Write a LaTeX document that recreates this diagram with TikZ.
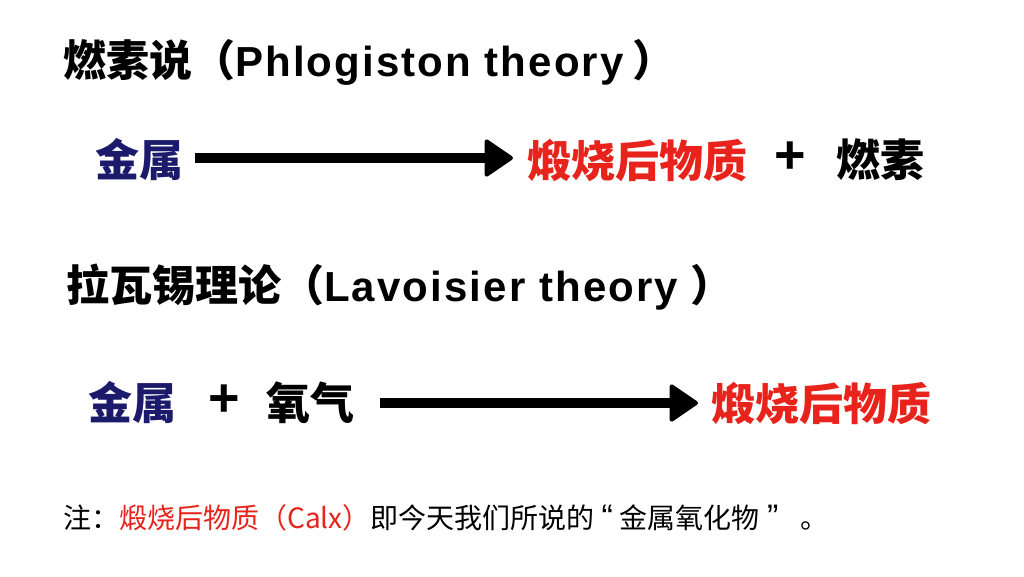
\documentclass[tikz,border=0pt]{standalone}
\usepackage{fontspec}
\setmainfont{Liberation Sans}
\newfontfamily\cjk{Noto Sans CJK SC}
\newfontfamily\latw{Liberation Sans}[LetterSpace=5]
\usetikzlibrary{arrows.meta}
\definecolor{navy}{HTML}{1C1A6B}
\definecolor{redc}{HTML}{E8231B}
\newcommand{\lat}[1]{{\fontsize{42}{46}\selectfont\latw\bfseries #1}}
\tikzset{
  title/.style={anchor=west, inner sep=0pt, font=\fontsize{43}{46}\selectfont\bfseries\cjk},
  big/.style={anchor=west, inner sep=0pt, font=\fontsize{44}{48}\selectfont\bfseries\cjk},
  plus/.style={anchor=center, inner sep=0pt, font=\fontsize{54}{58}\selectfont\bfseries},
  note/.style={anchor=west, inner sep=0pt, font=\fontsize{28}{32}\selectfont\cjk},
  fat/.style={line width=10pt, -{Triangle[length=30pt, width=40pt, round, line width=4pt]}}
}
\begin{document}
\begin{tikzpicture}[x=1pt,y=-1pt]
\useasboundingbox[fill=white] (0,0) rectangle (1024,576);
\node[title] (t1) at (63,62) {燃素说（\lat{Phlogiston theory}\kern9pt）};
\node[big, text=navy] (m1) at (95,160) {金属};
\node[big, text=redc] (c1) at (527,160) {煅烧后物质};
\node[plus] (p1) at (790,158) {+};
\node[big] (f1) at (836,160) {燃素};
\coordinate (a1s) at (195,158);
\coordinate (a1e) at (513,158);
\draw[fat] (a1s) -- (a1e);
\node[title] (t2) at (66,287) {拉瓦锡理论（\lat{Lavoisier theory}\kern12pt）};
\node[big, text=navy] (m2) at (88,403) {金属};
\node[plus] (p2) at (224,401) {+};
\node[big] (o2) at (266,403) {氧气};
\node[big, text=redc] (c2) at (711,403) {煅烧后物质};
\coordinate (a2s) at (380,403);
\coordinate (a2e) at (698,403);
\draw[fat] (a2s) -- (a2e);
\node[note] (n) at (63,518) {注：{\color{redc}煅烧后物质（Calx）}即今天我们所说的\kern7pt{\rmfamily\fontsize{34}{36}\selectfont “}\kern6pt 金属氧化物\kern8pt{\rmfamily\fontsize{34}{36}\selectfont ”}\kern22pt 。};
\end{tikzpicture}
\end{document}
